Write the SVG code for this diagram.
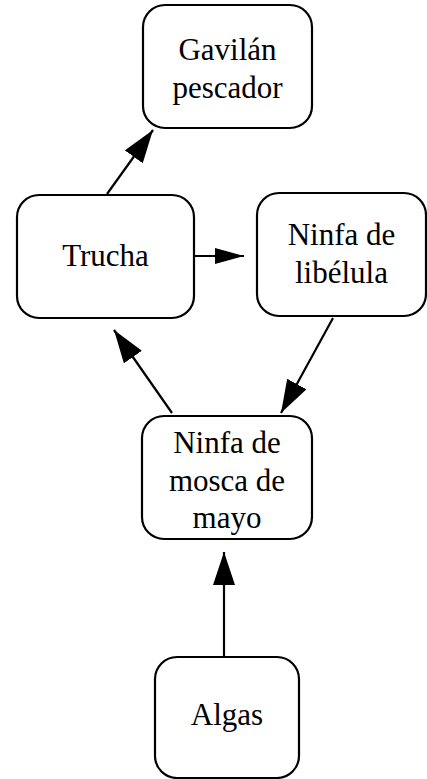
<svg xmlns="http://www.w3.org/2000/svg" width="427" height="779" viewBox="0 0 427 779">
<style>
.box{fill:#fff;stroke:#000;stroke-width:2.2}
.lbl{font-family:"Liberation Serif","Times New Roman",serif;font-size:31px;fill:#000;text-anchor:middle}
.edge{stroke:#000;stroke-width:2.2;fill:none}
</style>
<defs>
<marker id="ah" markerUnits="userSpaceOnUse" markerWidth="36" markerHeight="24" refX="33" refY="11" orient="auto">
<path d="M0,0 L33,11 L0,22 z" fill="#000"/>
</marker>
<marker id="ahs" markerUnits="userSpaceOnUse" markerWidth="32" markerHeight="18" refX="29" refY="8" orient="auto">
<path d="M0,0 L29,8 L0,16 z" fill="#000"/>
</marker>
</defs>
<g id="connectors">
<line class="edge" x1="107" y1="194" x2="153" y2="130" marker-end="url(#ah)"/>
<line class="edge" x1="194" y1="256" x2="244" y2="256" marker-end="url(#ahs)"/>
<line class="edge" x1="333" y1="318" x2="281" y2="413" marker-end="url(#ah)"/>
<line class="edge" x1="172" y1="413" x2="114" y2="330" marker-end="url(#ah)"/>
<line class="edge" x1="224" y1="657" x2="224" y2="552" marker-end="url(#ah)"/>
</g>
<g id="gavilan">
<rect class="box" x="143" y="5" width="169" height="123" rx="22"/>
<text class="lbl" x="227.5" y="60">Gavilán</text>
<text class="lbl" x="227.5" y="98">pescador</text>
</g>
<g id="trucha">
<rect class="box" x="17" y="195" width="177" height="123" rx="22"/>
<text class="lbl" x="105.5" y="266">Trucha</text>
</g>
<g id="libelula">
<rect class="box" x="257" y="193" width="169" height="123" rx="22"/>
<text class="lbl" x="341.5" y="245">Ninfa de</text>
<text class="lbl" x="341.5" y="283">libélula</text>
</g>
<g id="mosca">
<rect class="box" x="142" y="416" width="170" height="123" rx="22"/>
<text class="lbl" x="227" y="453">Ninfa de</text>
<text class="lbl" x="227" y="491">mosca de</text>
<text class="lbl" x="227" y="528">mayo</text>
</g>
<g id="algas">
<rect class="box" x="155" y="657" width="144" height="121" rx="22"/>
<text class="lbl" x="227" y="725">Algas</text>
</g>
</svg>
